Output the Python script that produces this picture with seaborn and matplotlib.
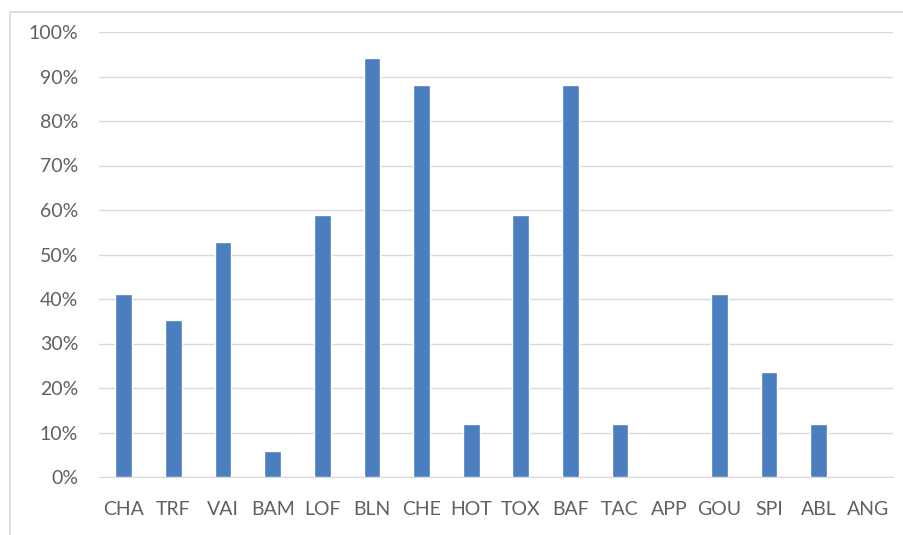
import matplotlib
matplotlib.use("Agg")
import matplotlib.pyplot as plt
import seaborn as sns
import pandas as pd
from matplotlib.patches import Rectangle
from matplotlib.ticker import PercentFormatter

categories = ["CHA", "TRF", "VAI", "BAM", "LOF", "BLN", "CHE", "HOT",
              "TOX", "BAF", "TAC", "APP", "GOU", "SPI", "ABL", "ANG"]
# share of 17 cases, in percent
values = [41.2, 35.3, 52.9, 5.9, 58.8, 94.1, 88.2, 11.8,
          58.8, 88.2, 11.8, 0.0, 41.2, 23.5, 11.8, 0.0]

df = pd.DataFrame({"cat": categories, "val": values})

sns.set_style("white")
plt.rcParams["font.family"] = ["Lato", "DejaVu Sans"]

fig = plt.figure(figsize=(9.04, 5.35), dpi=100)
ax = fig.add_axes([99 / 904, 1 - 477 / 535, 794 / 904, 445 / 535])

sns.barplot(data=df, x="cat", y="val", color="#4a7ebf", width=0.34,
            saturation=1, ax=ax, zorder=3)

ax.set_ylim(0, 100)
ax.set_yticks(range(0, 101, 10))
ax.yaxis.set_major_formatter(PercentFormatter(decimals=0))
ax.grid(axis="y", color="#d9d9d9", linewidth=1, zorder=0)
ax.set_xlabel("")
ax.set_ylabel("")
for s in ["top", "right", "left"]:
    ax.spines[s].set_visible(False)
ax.spines["bottom"].set_color("#d9d9d9")
ax.tick_params(axis="both", length=0, labelsize=14, colors="#606060")
ax.tick_params(axis="y", pad=15)
ax.tick_params(axis="x", pad=17)

fig.patches.append(Rectangle((10 / 904, -0.01), 1.0, 1 - 12 / 535 + 0.01,
                             transform=fig.transFigure, fill=False,
                             edgecolor="#d9d9d9", linewidth=1.2))

fig.savefig("out.png", dpi=100)
